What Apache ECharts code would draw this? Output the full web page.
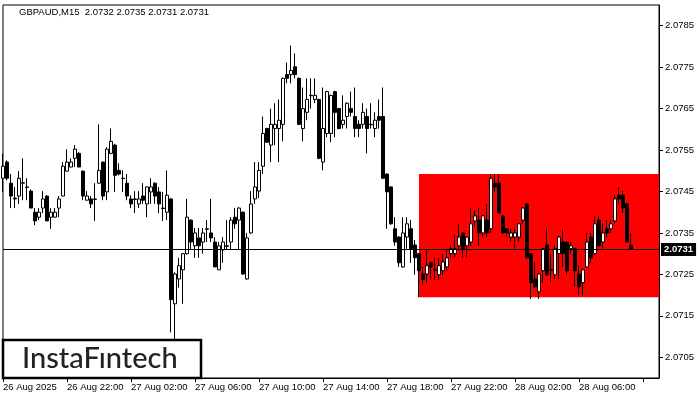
<!DOCTYPE html>
<html>
<head>
<meta charset="utf-8">
<script src="https://cdn.jsdelivr.net/npm/echarts@6/dist/echarts.min.js"></script>
<style>html,body{margin:0;padding:0;background:#fff;}#c{width:700px;height:400px;}</style>
</head>
<body>
<div id="c"></div>
<script>
// ---- Data (GBPAUD M15) ----
const titleText = 'GBPAUD,M15  2.0732 2.0735 2.0731 2.0731';
const startTime = '2025-08-26T18:00';
const totalSlots = 165; // categories spanning the visible window

const openVals = [
2.07482,2.07521,2.07470,2.07434,2.07439,2.07470,2.07461,2.07451,2.07400,2.07388,
2.07410,2.07439,2.07388,2.07388,2.07410,2.07439,2.07499,2.07509,2.07530,2.07542,
2.07499,2.07429,2.07432,2.07432,2.07470,2.07521,2.07449,2.07542,2.07562,2.07501,
2.07482,2.07470,2.07432,2.07432,2.07420,2.07439,2.07420,2.07449,2.07470,2.07449,
2.07410,2.07400,2.07432,2.07179,2.07239,2.07261,2.07300,2.07381,2.07319,2.07338,
2.07328,2.07360,2.07350,2.07328,2.07261,2.07309,2.07319,2.07328,2.07388,2.07381,
2.07400,2.07239,2.07350,2.07432,2.07451,2.07511,2.07602,2.07562,2.07602,2.07602,
2.07612,2.07732,2.07732,2.07751,2.07723,2.07602,2.07641,2.07682,2.07672,2.07672,
2.07521,2.07590,2.07590,2.07691,2.07650,2.07612,2.07631,2.07650,2.07631,2.07612,
2.07612,2.07631,2.07612,2.07602,2.07631,2.07631,2.07492,2.07461,2.07360,2.07340,
2.07268,2.07340,2.07360,2.07321,2.07300,2.07251,2.07251,2.07278,2.07261,2.07249,
2.07259,2.07268,2.07300,2.07300,2.07319,2.07350,2.07319,2.07328,2.07379,2.07381,
2.07350,2.07381,2.07360,2.07470,2.07470,2.07391,2.07360,2.07340,2.07340,2.07340,
2.07381,2.07420,2.07300,2.07239,2.07208,2.07259,2.07321,2.07261,2.07249,2.07300,
2.07328,2.07328,2.07312,2.07312,2.07251,2.07230,2.07268,2.07340,2.07300,2.07381,
2.07328,2.07360,2.07360,2.07379,2.07441,2.07441,2.07420,2.07320];
const closeVals = [
2.07511,2.07482,2.07439,2.07432,2.07482,2.07471,2.07460,2.07410,2.07379,2.07400,
2.07432,2.07379,2.07400,2.07400,2.07432,2.07511,2.07521,2.07521,2.07552,2.07509,
2.07439,2.07439,2.07420,2.07431,2.07501,2.07439,2.07552,2.07571,2.07489,2.07492,
2.07481,2.07439,2.07420,2.07431,2.07432,2.07429,2.07461,2.07461,2.07439,2.07420,
2.07409,2.07441,2.07189,2.07251,2.07271,2.07300,2.07388,2.07328,2.07350,2.07319,
2.07350,2.07359,2.07338,2.07268,2.07319,2.07328,2.07318,2.07381,2.07372,2.07410,
2.07251,2.07338,2.07420,2.07461,2.07501,2.07590,2.07569,2.07612,2.07612,2.07622,
2.07723,2.07723,2.07742,2.07732,2.07612,2.07650,2.07672,2.07681,2.07682,2.07530,
2.07602,2.07691,2.07682,2.07641,2.07602,2.07622,2.07663,2.07641,2.07602,2.07602,
2.07641,2.07602,2.07611,2.07622,2.07622,2.07482,2.07449,2.07372,2.07328,2.07278,
2.07350,2.07372,2.07312,2.07290,2.07259,2.07237,2.07271,2.07268,2.07260,2.07271,
2.07280,2.07290,2.07312,2.07312,2.07340,2.07312,2.07340,2.07372,2.07391,2.07350,
2.07391,2.07350,2.07482,2.07461,2.07398,2.07350,2.07350,2.07350,2.07350,2.07372,
2.07410,2.07290,2.07230,2.07220,2.07251,2.07312,2.07249,2.07260,2.07312,2.07340,
2.07300,2.07259,2.07319,2.07259,2.07220,2.07261,2.07328,2.07290,2.07372,2.07319,
2.07350,2.07350,2.07372,2.07432,2.07432,2.07410,2.07328,2.07310];
const lowVals = [
2.07449,2.07477,2.07410,2.07410,2.07420,2.07429,2.07429,2.07410,2.07369,2.07381,
2.07398,2.07379,2.07360,2.07388,2.07388,2.07439,2.07499,2.07509,2.07509,2.07509,
2.07429,2.07429,2.07410,2.07379,2.07470,2.07429,2.07429,2.07540,2.07449,2.07489,
2.07449,2.07429,2.07410,2.07398,2.07410,2.07420,2.07388,2.07420,2.07420,2.07398,
2.07379,2.07381,2.07110,2.07093,2.07218,2.07179,2.07298,2.07309,2.07290,2.07290,
2.07300,2.07328,2.07328,2.07268,2.07261,2.07278,2.07309,2.07309,2.07360,2.07309,
2.07249,2.07237,2.07348,2.07420,2.07434,2.07492,2.07567,2.07521,2.07562,2.07521,
2.07571,2.07711,2.07711,2.07723,2.07610,2.07571,2.07622,2.07650,2.07663,2.07528,
2.07501,2.07581,2.07569,2.07581,2.07600,2.07602,2.07602,2.07631,2.07581,2.07581,
2.07602,2.07542,2.07602,2.07581,2.07602,2.07480,2.07360,2.07370,2.07319,2.07268,
2.07266,2.07312,2.07278,2.07249,2.07195,2.07227,2.07230,2.07237,2.07237,2.07237,
2.07249,2.07259,2.07290,2.07290,2.07312,2.07290,2.07290,2.07319,2.07365,2.07319,
2.07340,2.07340,2.07350,2.07449,2.07396,2.07348,2.07340,2.07328,2.07312,2.07328,
2.07372,2.07288,2.07191,2.07218,2.07191,2.07230,2.07247,2.07230,2.07239,2.07239,
2.07268,2.07249,2.07300,2.07220,2.07199,2.07199,2.07266,2.07278,2.07298,2.07317,
2.07312,2.07340,2.07350,2.07372,2.07420,2.07398,2.07326,2.07310];
const highVals = [
2.07542,2.07525,2.07492,2.07461,2.07499,2.07530,2.07482,2.07455,2.07410,2.07410,
2.07451,2.07441,2.07410,2.07410,2.07439,2.07521,2.07552,2.07530,2.07562,2.07545,
2.07501,2.07451,2.07439,2.07470,2.07612,2.07521,2.07557,2.07602,2.07565,2.07518,
2.07501,2.07492,2.07441,2.07451,2.07451,2.07470,2.07462,2.07482,2.07472,2.07461,
2.07449,2.07501,2.07434,2.07255,2.07290,2.07302,2.07432,2.07383,2.07362,2.07362,
2.07362,2.07381,2.07432,2.07340,2.07328,2.07340,2.07381,2.07388,2.07410,2.07412,
2.07402,2.07350,2.07451,2.07521,2.07521,2.07631,2.07604,2.07650,2.07663,2.07672,
2.07725,2.07761,2.07802,2.07783,2.07725,2.07701,2.07723,2.07723,2.07723,2.07674,
2.07701,2.07693,2.07684,2.07693,2.07652,2.07682,2.07665,2.07691,2.07701,2.07622,
2.07663,2.07650,2.07663,2.07641,2.07672,2.07701,2.07494,2.07463,2.07388,2.07342,
2.07388,2.07388,2.07381,2.07333,2.07302,2.07268,2.07309,2.07280,2.07290,2.07290,
2.07300,2.07312,2.07321,2.07345,2.07372,2.07352,2.07342,2.07410,2.07405,2.07410,
2.07393,2.07420,2.07492,2.07492,2.07492,2.07393,2.07362,2.07360,2.07360,2.07374,
2.07412,2.07422,2.07302,2.07280,2.07253,2.07314,2.07360,2.07300,2.07321,2.07342,
2.07360,2.07330,2.07328,2.07314,2.07271,2.07263,2.07350,2.07350,2.07391,2.07391,
2.07372,2.07381,2.07381,2.07441,2.07461,2.07451,2.07422,2.07350];

const currentPrice = 2.0731;
const zoneStartIdx = 104;
const zoneTop = 2.07492;
const zoneBottom = 2.07195;

const yTickVals = [2.0705, 2.0715, 2.0725, 2.0735, 2.0745, 2.0755, 2.0765, 2.0775, 2.0785];
const xTickLabels = ['26 Aug 2025', '26 Aug 22:00', '27 Aug 02:00', '27 Aug 06:00', '27 Aug 10:00',
  '27 Aug 14:00', '27 Aug 18:00', '27 Aug 22:00', '28 Aug 02:00', '28 Aug 06:00'];
const xTickEvery = 16;

// ---- build ----
const categories = [];
{
  const t0 = new Date(startTime + ':00Z').getTime();
  for (let i = 0; i < totalSlots; i++) {
    const d = new Date(t0 + i * 15 * 60000);
    categories.push(d.toISOString().slice(0, 16));
  }
}
const candleData = openVals.map((o, i) => [o, closeVals[i], lowVals[i], highVals[i]]);

const FONT = '"Liberation Sans", Arial, sans-serif';
const chart = echarts.init(document.getElementById('c'), null, {renderer: 'canvas'});
chart.setOption({
  animation: false,
  backgroundColor: '#fff',
  grid: {left: 3, right: 41, top: 5, bottom: 22, show: true, borderColor: '#000', borderWidth: 1, backgroundColor: '#fff'},
  xAxis: {
    type: 'category', data: categories, boundaryGap: false,
    axisLine: {show: true, lineStyle: {color: '#000', width: 1}},
    axisTick: {show: true, length: 4, lineStyle: {color: '#000'}, interval: (i) => i % xTickEvery === 0},
    axisLabel: {
      interval: (i) => i % xTickEvery === 0,
      formatter: (v, i) => xTickLabels[Math.round(i / xTickEvery)] || '',
      align: 'left', color: '#000', fontSize: 9.5, fontFamily: FONT, margin: 4
    },
    splitLine: {show: false}
  },
  yAxis: {
    type: 'value', position: 'right', min: 2.0700, max: 2.0790, scale: true,
    axisLine: {show: true, lineStyle: {color: '#000'}},
    axisTick: {show: true, length: 4, lineStyle: {color: '#000'}, customValues: yTickVals},
    axisLabel: {color: '#000', fontSize: 9.5, fontFamily: FONT, margin: 6, customValues: yTickVals,
      formatter: (v) => v.toFixed(4)},
    splitLine: {show: false}
  },
  series: [
    {
      type: 'line', data: [], z: 1, silent: true,
      markArea: {
        silent: true,
        itemStyle: {color: '#ff0000', opacity: 1},
        data: [[{xAxis: categories[zoneStartIdx], yAxis: zoneTop}, {xAxis: categories[totalSlots - 1], yAxis: zoneBottom}]]
      }
    },
    {
      type: 'candlestick', data: candleData, z: 3, barWidth: 3,
      itemStyle: {color: '#fff', color0: '#000', borderColor: '#000', borderColor0: '#000', borderColorDoji: '#000', borderWidth: 1}
    },
    {
      type: 'line', data: [], z: 5, silent: true,
      markLine: {
        silent: true, symbol: 'none',
        lineStyle: {color: '#000', width: 1, type: 'solid'},
        label: {show: true, position: 'end', distance: 2, formatter: currentPrice.toFixed(4),
          backgroundColor: '#000', color: '#fff', fontSize: 9.5, fontWeight: 'bold', fontFamily: FONT, padding: [2, 3, 1, 3]},
        data: [[{coord: [categories[0], currentPrice]}, {coord: [categories[totalSlots - 1], currentPrice]}]]
      }
    }
  ],
  graphic: [
    {type: 'text', left: 19, top: 7, style: {text: titleText, fill: '#000', font: '9.5px ' + FONT}},
    {type: 'rect', shape: {x: 3, y: 340, width: 198, height: 38}, style: {fill: '#fff', stroke: '#000', lineWidth: 2.5}, z: 100},
    {type: 'text', x: 22, y: 359, style: {text: 'InstaFıntech', fill: '#222', font: '500 29px Lato, "Noto Sans", sans-serif', textVerticalAlign: 'middle'}, z: 101}
  ]
});
</script>
</body>
</html>
